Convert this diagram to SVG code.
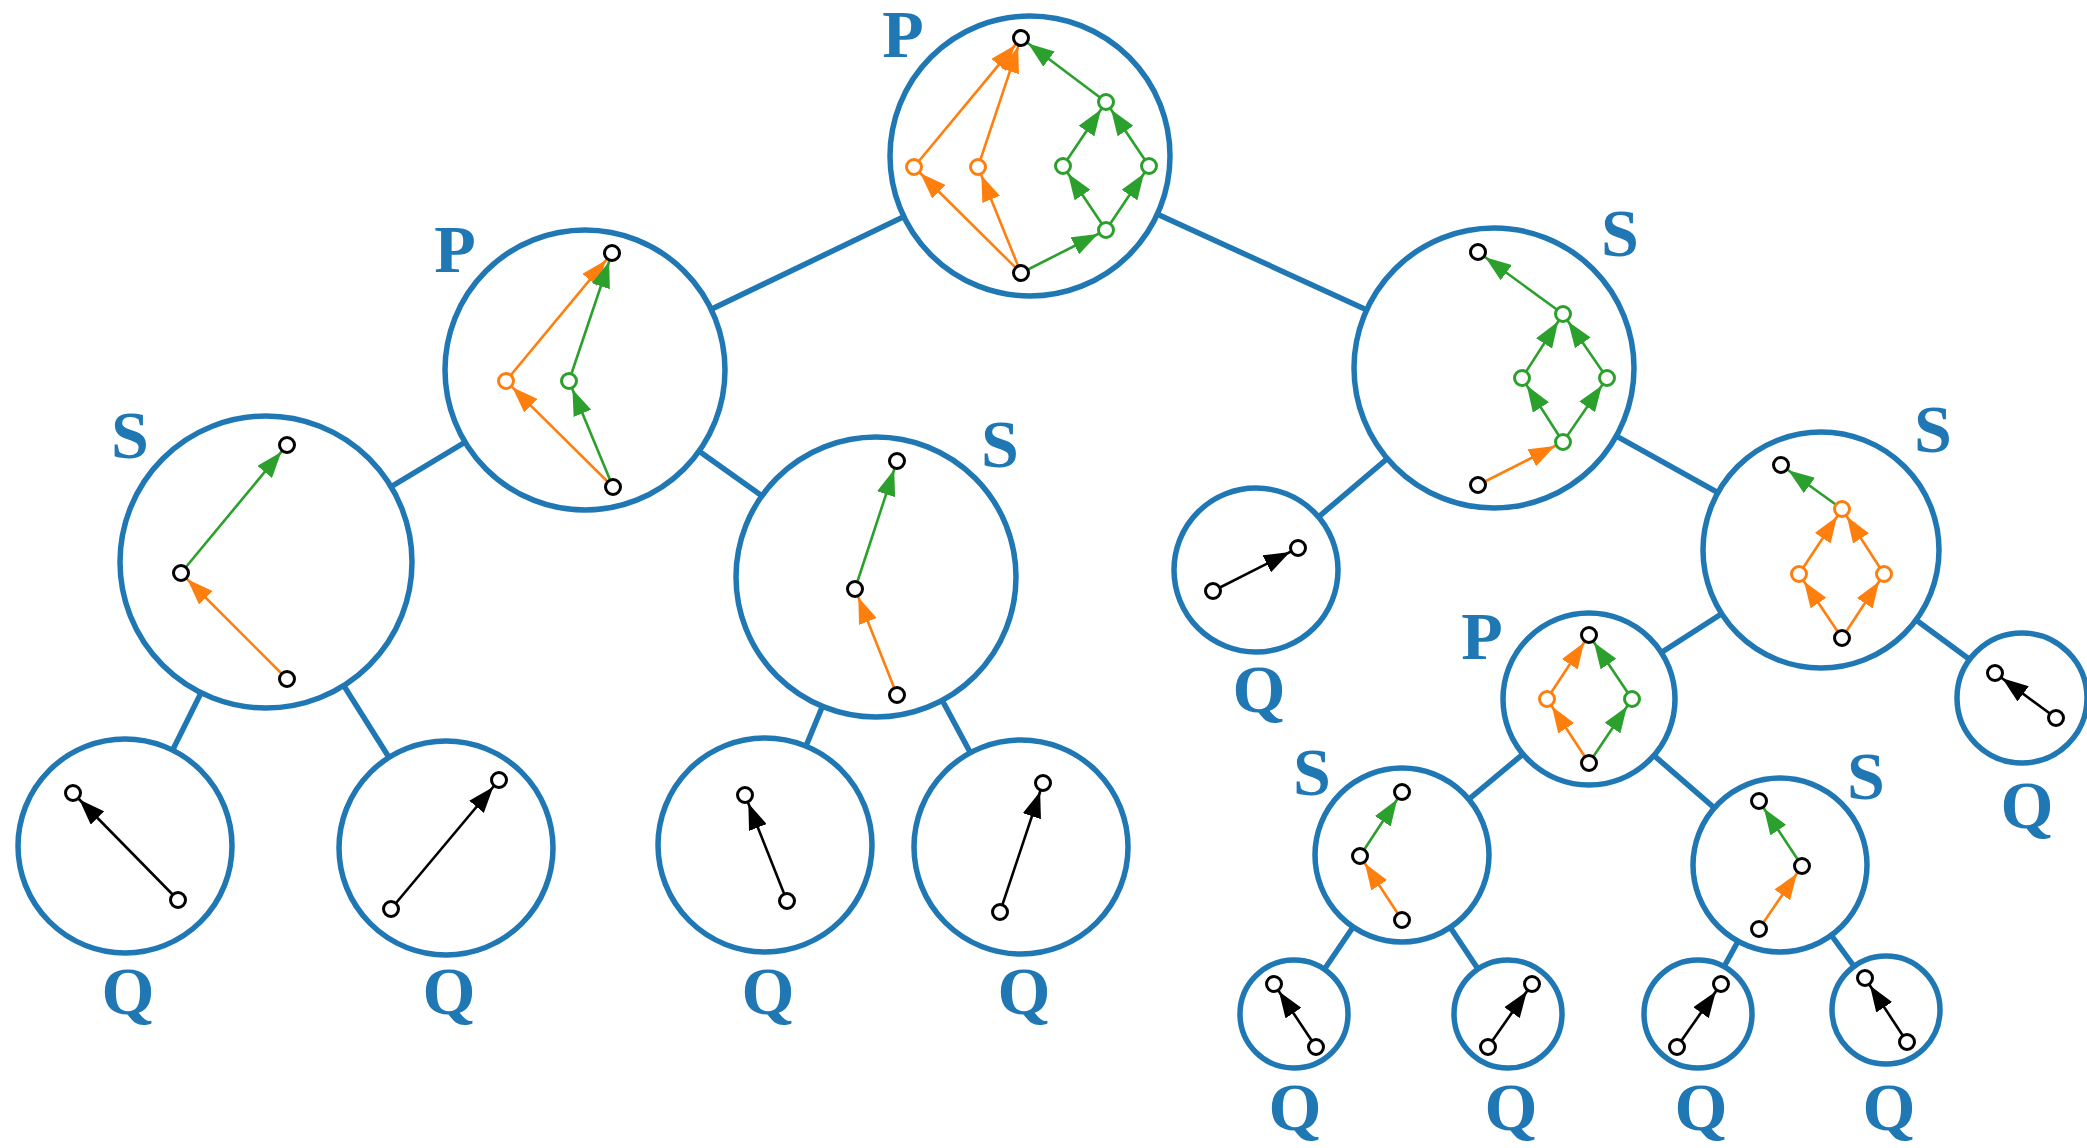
<svg xmlns="http://www.w3.org/2000/svg" width="2087" height="1148" viewBox="0 0 2087 1148">
<style>
.tree line{stroke:#1f77b4;stroke-width:5.5}
.ring{fill:#fff;stroke:#1f77b4;stroke-width:5.5}
.v{fill:#fff;stroke-width:3}
.k{stroke:#000}
.o{stroke:#ff7f0e}
.g{stroke:#2ca02c}
.e{stroke-width:2.6;fill:none}
.ek{stroke:#000;marker-end:url(#ak)}
.eo{stroke:#ff7f0e;marker-end:url(#ao)}
.eg{stroke:#2ca02c;marker-end:url(#ag)}
.lbl{font-family:"Liberation Serif","Times New Roman",serif;font-weight:bold;font-size:68px;fill:#1f77b4;text-anchor:middle}
</style>
<defs>
<marker id="ak" markerUnits="userSpaceOnUse" markerWidth="26" markerHeight="19" refX="35" refY="9.5" orient="auto"><path d="M0,0L26,9.5L0,19z" fill="#000"/></marker>
<marker id="ao" markerUnits="userSpaceOnUse" markerWidth="26" markerHeight="19" refX="35" refY="9.5" orient="auto"><path d="M0,0L26,9.5L0,19z" fill="#ff7f0e"/></marker>
<marker id="ag" markerUnits="userSpaceOnUse" markerWidth="26" markerHeight="19" refX="35" refY="9.5" orient="auto"><path d="M0,0L26,9.5L0,19z" fill="#2ca02c"/></marker>
</defs>
<rect width="2087" height="1148" fill="#fff"/>
<g id="connectors" class="tree">
<line x1="1030" y1="156" x2="585" y2="370"/>
<line x1="1030" y1="156" x2="1494" y2="368"/>
<line x1="585" y1="370" x2="266" y2="562"/>
<line x1="585" y1="370" x2="876" y2="577"/>
<line x1="266" y1="562" x2="125" y2="846"/>
<line x1="266" y1="562" x2="446" y2="848"/>
<line x1="876" y1="577" x2="765" y2="845"/>
<line x1="876" y1="577" x2="1021" y2="847"/>
<line x1="1494" y1="368" x2="1256" y2="570"/>
<line x1="1494" y1="368" x2="1821" y2="550"/>
<line x1="1821" y1="550" x2="1589" y2="699"/>
<line x1="1821" y1="550" x2="2022" y2="698"/>
<line x1="1589" y1="699" x2="1402" y2="855"/>
<line x1="1589" y1="699" x2="1780" y2="865"/>
<line x1="1402" y1="855" x2="1294" y2="1014"/>
<line x1="1402" y1="855" x2="1508" y2="1014"/>
<line x1="1780" y1="865" x2="1698" y2="1014"/>
<line x1="1780" y1="865" x2="1886" y2="1010"/>
</g>

<g id="P_root">
<circle class="ring" cx="1030" cy="156" r="140"/>
<g class="e">
<line class="eo" x1="1021" y1="273" x2="914" y2="167"/>
<line class="eo" x1="914" y1="167" x2="1021" y2="38"/>
<line class="eo" x1="1021" y1="273" x2="978" y2="167"/>
<line class="eo" x1="978" y1="167" x2="1021" y2="38"/>
<line class="eg" x1="1021" y1="273" x2="1106" y2="230"/>
<line class="eg" x1="1106" y1="230" x2="1063" y2="166"/>
<line class="eg" x1="1106" y1="230" x2="1149" y2="166"/>
<line class="eg" x1="1063" y1="166" x2="1106" y2="102"/>
<line class="eg" x1="1149" y1="166" x2="1106" y2="102"/>
<line class="eg" x1="1106" y1="102" x2="1021" y2="38"/>
</g>
<circle class="v k" cx="1021" cy="38" r="7.5"/>
<circle class="v k" cx="1021" cy="273" r="7.5"/>
<circle class="v o" cx="914" cy="167" r="7.5"/>
<circle class="v o" cx="978" cy="167" r="7.5"/>
<circle class="v g" cx="1106" cy="102" r="7.5"/>
<circle class="v g" cx="1063" cy="166" r="7.5"/>
<circle class="v g" cx="1149" cy="166" r="7.5"/>
<circle class="v g" cx="1106" cy="230" r="7.5"/>
<text class="lbl" x="903" y="57">P</text>
</g>

<g id="P_left">
<circle class="ring" cx="585" cy="370" r="140"/>
<g class="e">
<line class="eo" x1="613" y1="487" x2="506" y2="381"/>
<line class="eo" x1="506" y1="381" x2="612" y2="253"/>
<line class="eg" x1="613" y1="487" x2="569" y2="381"/>
<line class="eg" x1="569" y1="381" x2="612" y2="253"/>
</g>
<circle class="v k" cx="612" cy="253" r="7.5"/>
<circle class="v k" cx="613" cy="487" r="7.5"/>
<circle class="v o" cx="506" cy="381" r="7.5"/>
<circle class="v g" cx="569" cy="381" r="7.5"/>
<text class="lbl" x="455" y="272">P</text>
</g>

<g id="S_1">
<circle class="ring" cx="266" cy="562" r="146"/>
<g class="e">
<line class="eo" x1="287" y1="679" x2="181" y2="573"/>
<line class="eg" x1="181" y1="573" x2="287" y2="445"/>
</g>
<circle class="v k" cx="287" cy="445" r="7.5"/>
<circle class="v k" cx="181" cy="573" r="7.5"/>
<circle class="v k" cx="287" cy="679" r="7.5"/>
<text class="lbl" x="130" y="458">S</text>
</g>

<g id="S_2">
<circle class="ring" cx="876" cy="577" r="140"/>
<g class="e">
<line class="eo" x1="897" y1="695" x2="855" y2="589"/>
<line class="eg" x1="855" y1="589" x2="897" y2="461"/>
</g>
<circle class="v k" cx="897" cy="461" r="7.5"/>
<circle class="v k" cx="855" cy="589" r="7.5"/>
<circle class="v k" cx="897" cy="695" r="7.5"/>
<text class="lbl" x="1000" y="467">S</text>
</g>

<g id="S_3">
<circle class="ring" cx="1494" cy="368" r="140"/>
<g class="e">
<line class="eo" x1="1478" y1="485" x2="1563" y2="442"/>
<line class="eg" x1="1563" y1="442" x2="1522" y2="378"/>
<line class="eg" x1="1563" y1="442" x2="1607" y2="378"/>
<line class="eg" x1="1522" y1="378" x2="1563" y2="314"/>
<line class="eg" x1="1607" y1="378" x2="1563" y2="314"/>
<line class="eg" x1="1563" y1="314" x2="1478" y2="252"/>
</g>
<circle class="v k" cx="1478" cy="252" r="7.5"/>
<circle class="v g" cx="1563" cy="314" r="7.5"/>
<circle class="v g" cx="1522" cy="378" r="7.5"/>
<circle class="v g" cx="1607" cy="378" r="7.5"/>
<circle class="v g" cx="1563" cy="442" r="7.5"/>
<circle class="v k" cx="1478" cy="485" r="7.5"/>
<text class="lbl" x="1620" y="256">S</text>
</g>

<g id="S_4">
<circle class="ring" cx="1821" cy="550" r="118"/>
<g class="e">
<line class="eo" x1="1842" y1="638" x2="1799" y2="574"/>
<line class="eo" x1="1842" y1="638" x2="1884" y2="574"/>
<line class="eo" x1="1799" y1="574" x2="1842" y2="509"/>
<line class="eo" x1="1884" y1="574" x2="1842" y2="509"/>
<line class="eg" x1="1842" y1="509" x2="1781" y2="465"/>
</g>
<circle class="v k" cx="1781" cy="465" r="7.5"/>
<circle class="v o" cx="1842" cy="509" r="7.5"/>
<circle class="v o" cx="1799" cy="574" r="7.5"/>
<circle class="v o" cx="1884" cy="574" r="7.5"/>
<circle class="v k" cx="1842" cy="638" r="7.5"/>
<text class="lbl" x="1933" y="452">S</text>
</g>

<g id="P_3">
<circle class="ring" cx="1589" cy="699" r="86"/>
<g class="e">
<line class="eo" x1="1589" y1="763" x2="1547" y2="699"/>
<line class="eo" x1="1547" y1="699" x2="1589" y2="635"/>
<line class="eg" x1="1589" y1="763" x2="1632" y2="699"/>
<line class="eg" x1="1632" y1="699" x2="1589" y2="635"/>
</g>
<circle class="v k" cx="1589" cy="635" r="7.5"/>
<circle class="v o" cx="1547" cy="699" r="7.5"/>
<circle class="v g" cx="1632" cy="699" r="7.5"/>
<circle class="v k" cx="1589" cy="763" r="7.5"/>
<text class="lbl" x="1482" y="659">P</text>
</g>

<g id="S_5">
<circle class="ring" cx="1402" cy="855" r="87"/>
<g class="e">
<line class="eo" x1="1402" y1="920" x2="1360" y2="856"/>
<line class="eg" x1="1360" y1="856" x2="1402" y2="792"/>
</g>
<circle class="v k" cx="1402" cy="792" r="7.5"/>
<circle class="v k" cx="1360" cy="856" r="7.5"/>
<circle class="v k" cx="1402" cy="920" r="7.5"/>
<text class="lbl" x="1312" y="795">S</text>
</g>

<g id="S_6">
<circle class="ring" cx="1780" cy="865" r="87"/>
<g class="e">
<line class="eo" x1="1759" y1="929" x2="1802" y2="866"/>
<line class="eg" x1="1802" y1="866" x2="1759" y2="801"/>
</g>
<circle class="v k" cx="1759" cy="801" r="7.5"/>
<circle class="v k" cx="1802" cy="866" r="7.5"/>
<circle class="v k" cx="1759" cy="929" r="7.5"/>
<text class="lbl" x="1866" y="799">S</text>
</g>

<g id="Q_1">
<circle class="ring" cx="125" cy="846" r="107"/>
<line class="e ek" x1="178" y1="900" x2="73" y2="793"/>
<circle class="v k" cx="73" cy="793" r="7.5"/>
<circle class="v k" cx="178" cy="900" r="7.5"/>
<text class="lbl" x="128" y="1014">Q</text>
</g>

<g id="Q_2">
<circle class="ring" cx="446" cy="848" r="107"/>
<line class="e ek" x1="391" y1="909" x2="499" y2="780"/>
<circle class="v k" cx="499" cy="780" r="7.5"/>
<circle class="v k" cx="391" cy="909" r="7.5"/>
<text class="lbl" x="449" y="1014">Q</text>
</g>

<g id="Q_3">
<circle class="ring" cx="765" cy="845" r="107"/>
<line class="e ek" x1="787" y1="901" x2="745" y2="795"/>
<circle class="v k" cx="745" cy="795" r="7.5"/>
<circle class="v k" cx="787" cy="901" r="7.5"/>
<text class="lbl" x="768" y="1014">Q</text>
</g>

<g id="Q_4">
<circle class="ring" cx="1021" cy="847" r="107"/>
<line class="e ek" x1="1000" y1="912" x2="1043" y2="783"/>
<circle class="v k" cx="1043" cy="783" r="7.5"/>
<circle class="v k" cx="1000" cy="912" r="7.5"/>
<text class="lbl" x="1024" y="1014">Q</text>
</g>

<g id="Q_5">
<circle class="ring" cx="1256" cy="570" r="82"/>
<line class="e ek" x1="1213" y1="591" x2="1298" y2="548"/>
<circle class="v k" cx="1213" cy="591" r="7.5"/>
<circle class="v k" cx="1298" cy="548" r="7.5"/>
<text class="lbl" x="1259" y="712">Q</text>
</g>

<g id="Q_6">
<circle class="ring" cx="2022" cy="698" r="65"/>
<line class="e ek" x1="2056" y1="718" x2="1995" y2="673"/>
<circle class="v k" cx="1995" cy="673" r="7.5"/>
<circle class="v k" cx="2056" cy="718" r="7.5"/>
<text class="lbl" x="2027" y="828">Q</text>
</g>

<g id="Q_7">
<circle class="ring" cx="1294" cy="1014" r="54"/>
<line class="e ek" x1="1316" y1="1047" x2="1274" y2="984"/>
<circle class="v k" cx="1274" cy="984" r="7.5"/>
<circle class="v k" cx="1316" cy="1047" r="7.5"/>
<text class="lbl" x="1295" y="1130">Q</text>
</g>

<g id="Q_8">
<circle class="ring" cx="1508" cy="1014" r="54"/>
<line class="e ek" x1="1488" y1="1047" x2="1532" y2="984"/>
<circle class="v k" cx="1532" cy="984" r="7.5"/>
<circle class="v k" cx="1488" cy="1047" r="7.5"/>
<text class="lbl" x="1511" y="1130">Q</text>
</g>

<g id="Q_9">
<circle class="ring" cx="1698" cy="1014" r="54"/>
<line class="e ek" x1="1677" y1="1047" x2="1721" y2="984"/>
<circle class="v k" cx="1721" cy="984" r="7.5"/>
<circle class="v k" cx="1677" cy="1047" r="7.5"/>
<text class="lbl" x="1701" y="1130">Q</text>
</g>

<g id="Q_10">
<circle class="ring" cx="1886" cy="1010" r="54"/>
<line class="e ek" x1="1907" y1="1042" x2="1865" y2="978"/>
<circle class="v k" cx="1865" cy="978" r="7.5"/>
<circle class="v k" cx="1907" cy="1042" r="7.5"/>
<text class="lbl" x="1889" y="1130">Q</text>
</g>
</svg>
